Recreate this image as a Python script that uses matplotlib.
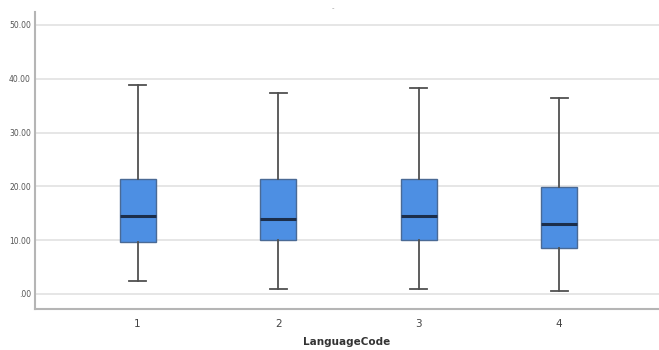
import numpy as np
import matplotlib.pyplot as plt

# box summary per language code: whisker low, Q1, median, Q3, whisker high
codes = [1, 2, 3, 4]
whislo = [2.4, 0.9, 0.9, 0.6]
q1 = [9.7, 10.0, 10.0, 8.5]
med = [14.5, 13.9, 14.5, 13.0]
q3 = [21.4, 21.4, 21.4, 19.9]
whishi = [38.8, 37.4, 38.3, 36.4]
yticks = [0, 10, 20, 30, 40, 50]
ytick_labels = [".00", "10.00", "20.00", "30.00", "40.00", "50.00"]

stats = []
for i in range(len(codes)):
    stats.append({"whislo": whislo[i], "q1": q1[i], "med": med[i],
                  "q3": q3[i], "whishi": whishi[i], "fliers": [],
                  "label": str(codes[i])})

fig = plt.figure(figsize=(6.59, 3.5), dpi=100)
ax = fig.add_axes([35 / 659, 41 / 350, 624 / 659, 297 / 350])

ax.bxp(stats, positions=codes, widths=0.255, patch_artist=True,
       boxprops=dict(facecolor="#4d8fe3", edgecolor="#4a6a95", linewidth=1.0),
       medianprops=dict(color="#1c2e4a", linewidth=2.2),
       whiskerprops=dict(color="#505050", linewidth=1.3),
       capprops=dict(color="#505050", linewidth=1.3),
       capwidths=0.12, zorder=3)

ax.set_xlim(0.27, 4.71)
ax.set_ylim(-2.8, 52.4)
ax.set_yticks(yticks)
ax.set_yticklabels(ytick_labels)
ax.yaxis.grid(True, color="#e2e2e2", linewidth=1.2, zorder=0)
ax.set_axisbelow(True)

for s in ["top", "right"]:
    ax.spines[s].set_visible(False)
for s in ["left", "bottom"]:
    ax.spines[s].set_color("#b5b5b5")
    ax.spines[s].set_linewidth(1.5)

ax.tick_params(axis="y", length=0, labelsize=5.5, labelcolor="#555555", pad=3)
ax.tick_params(axis="x", length=0, labelsize=7.5, labelcolor="#444444", pad=7)
ax.set_xlabel("LanguageCode", fontsize=7.5, fontweight="bold",
              color="#333333", labelpad=6)

fig.text(333 / 659, 1 - 8 / 350, "-", fontsize=5, color="#999999",
         ha="center", va="center")

fig.savefig("out.png", dpi=100, facecolor="white")
